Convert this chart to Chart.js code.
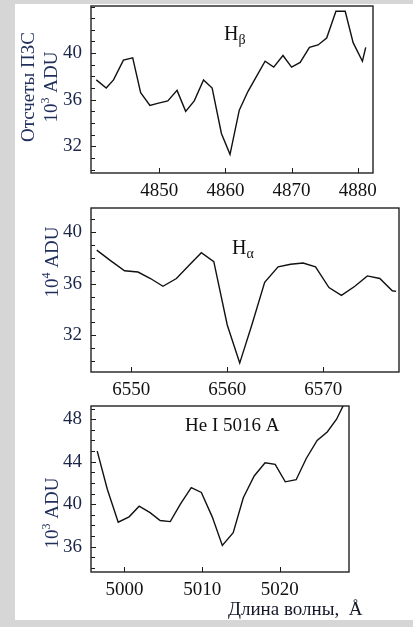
<!DOCTYPE html>
<html><head><meta charset="utf-8">
<script src="https://cdn.jsdelivr.net/npm/chart.js@4.4.1/dist/chart.umd.min.js"></script>
<style>
html,body{margin:0;padding:0;}
body{width:413px;height:627px;background:#d6d6d6;position:relative;overflow:hidden;}
#paper{position:absolute;left:15px;top:4px;width:398px;height:616px;background:#fff;}
canvas{position:absolute;left:0;top:0;}
</style></head><body>
<div id="paper"></div>
<canvas id="c1" width="413" height="627"></canvas>
<canvas id="c2" width="413" height="627"></canvas>
<canvas id="c3" width="413" height="627"></canvas>
<script>
// ---- Data ----
const hbWave = [4840.5,4842.0,4843.1,4844.6,4846.0,4847.2,4848.6,4849.9,4851.3,4852.7,4854.0,4855.3,4856.7,4858.0,4859.4,4860.7,4862.1,4863.4,4864.7,4866.0,4867.3,4868.7,4870.0,4871.3,4872.7,4874.0,4875.3,4876.7,4878.1,4879.3,4880.7,4881.2];
const hbCounts = [37.7,37.0,37.7,39.4,39.6,36.6,35.5,35.7,35.9,36.8,35.0,35.9,37.7,37.0,33.1,31.3,35.1,36.7,38.0,39.3,38.8,39.8,38.8,39.2,40.5,40.7,41.3,43.6,43.6,40.9,39.3,40.5];

const haWave = [6546.4,6547.8,6549.3,6550.7,6552.0,6553.3,6554.7,6556.0,6557.3,6558.6,6560.0,6561.3,6562.6,6563.9,6565.3,6566.6,6567.9,6569.2,6570.6,6571.9,6573.3,6574.6,6575.9,6577.2,6577.6];
const haCounts = [38.6,37.8,37.0,36.9,36.4,35.8,36.4,37.4,38.4,37.7,32.8,29.85,32.9,36.1,37.3,37.5,37.6,37.3,35.7,35.1,35.8,36.6,36.4,35.45,35.4];

const heWave = [4996.5,4997.8,4999.2,5000.6,5001.9,5003.3,5004.6,5005.9,5007.2,5008.6,5009.9,5011.3,5012.6,5014.0,5015.3,5016.7,5018.1,5019.4,5020.7,5022.1,5023.4,5024.8,5026.1,5027.3,5028.3];
const heCounts = [45.0,41.4,38.3,38.8,39.8,39.2,38.45,38.35,40.0,41.55,41.1,38.8,36.1,37.3,40.6,42.65,43.9,43.75,42.1,42.3,44.3,46.0,46.8,48.0,49.5];

const hbXTicks = [4850,4860,4870,4880];
const hbYTicks = [32,36,40];
const haXTicks = [6550,6560,6570];
const haYTicks = [32,36,40];
const heXTicks = [5000,5010,5020];
const heYTicks = [36,40,44,48];

const hbLabel = ['H','β'];
const haLabel = ['H','α'];
const heLabel = 'He I 5016 A';
const yTitleTop = ['Отсчеты ПЗС', '10', '3', ' ADU'];
const yTitleMid = ['10', '4', ' ADU'];
const yTitleBot = ['10', '3', ' ADU'];
const xTitle = 'Длина волны,  Å';

// ---- Drawing helpers ----
const FONT = '"Liberation Serif", "Times New Roman", serif';
const W = 413, H = 627, XH = 30;
const NAVY = '#22305e';

function drawRich(ctx, parts, x, y, rot, align) {
  ctx.save();
  ctx.translate(x, y);
  if (rot) ctx.rotate(rot);
  ctx.textBaseline = 'alphabetic';
  ctx.textAlign = 'left';
  let total = 0;
  parts.forEach(p => { ctx.font = p.size + 'px ' + FONT; total += ctx.measureText(p.t).width; });
  let cx = align === 'center' ? -total / 2 : 0;
  parts.forEach(p => {
    ctx.font = p.size + 'px ' + FONT;
    ctx.fillStyle = p.color || '#111';
    ctx.fillText(p.t, cx, p.dy || 0);
    cx += ctx.measureText(p.t).width;
  });
  ctx.restore();
}

function framePlugin(xTicks, yTicks) {
  return {
    id: 'frame',
    afterDraw(chart) {
      const {ctx, chartArea: a, scales: {x, y}} = chart;
      ctx.save();
      ctx.strokeStyle = '#1a1a1a';
      ctx.lineWidth = 1;
      ctx.beginPath();
      for (let v = Math.ceil(y.min); v <= y.max; v += 1) {
        const py = Math.round(y.getPixelForValue(v)) + 0.5;
        const len = yTicks.includes(v) ? 5 : 4;
        ctx.moveTo(a.left, py); ctx.lineTo(a.left + len, py);
      }
      xTicks.forEach(v => {
        const px = Math.round(x.getPixelForValue(v)) + 0.5;
        ctx.moveTo(px, a.bottom); ctx.lineTo(px, a.bottom - 5);
      });
      ctx.stroke();
      ctx.lineWidth = 1.4;
      ctx.strokeStyle = '#222';
      ctx.strokeRect(a.left, a.top, a.right - a.left, a.bottom - a.top);
      ctx.restore();
    }
  };
}

function textPlugin(fn) {
  return { id: 'texts', afterDraw(chart) { fn(chart.ctx); } };
}

function panel(id, xs, ys, xTicks, yTicks, xmin, xmax, ymin, ymax, area, textFn) {
  new Chart(document.getElementById(id), {
    type: 'line',
    data: { datasets: [{
      data: xs.map((v, i) => ({x: v, y: ys[i]})),
      borderColor: '#111', borderWidth: 1.4, pointRadius: 0, tension: 0, fill: false
    }]},
    options: {
      responsive: false, animation: false, events: [],
      layout: { padding: { left: 0, top: area.t, right: W - area.r, bottom: H - area.b - XH } },
      plugins: { legend: {display: false}, tooltip: {enabled: false} },
      scales: {
        x: {
          type: 'linear', min: xmin, max: xmax,
          afterFit(s) { s.height = XH; s.paddingLeft = 0; s.paddingRight = 0; },
          afterBuildTicks(s) { s.ticks = xTicks.map(v => ({value: v})); },
          grid: {display: false, drawTicks: false}, border: {display: false},
          ticks: { font: {family: FONT, size: 19}, color: '#111', padding: 7, maxRotation: 0, autoSkip: false,
                   callback: v => String(v) }
        },
        y: {
          type: 'linear', min: ymin, max: ymax,
          afterFit(s) { s.width = area.l; s.paddingTop = 0; s.paddingBottom = 0; },
          afterBuildTicks(s) { s.ticks = yTicks.map(v => ({value: v})); },
          grid: {display: false, drawTicks: false}, border: {display: false},
          ticks: { font: {family: FONT, size: 19}, color: '#1b2548', padding: 9, autoSkip: false,
                   callback: v => String(v) }
        }
      }
    },
    plugins: [framePlugin(xTicks, yTicks), textPlugin(textFn)]
  });
}

panel('c1', hbWave, hbCounts, hbXTicks, hbYTicks, 4839.7, 4882.3, 29.7, 44.05,
  {l: 91, t: 6, r: 373, b: 173},
  ctx => {
    drawRich(ctx, [{t: hbLabel[0], size: 20}, {t: hbLabel[1], size: 14, dy: 4}], 224, 40);
    drawRich(ctx, [{t: yTitleTop[0], size: 19, color: NAVY}], 34, 87, -Math.PI / 2, 'center');
    drawRich(ctx, [{t: yTitleTop[1], size: 19, color: NAVY}, {t: yTitleTop[2], size: 12, dy: -8, color: NAVY}, {t: yTitleTop[3], size: 19, color: NAVY}], 57, 87, -Math.PI / 2, 'center');
  });

panel('c2', haWave, haCounts, haXTicks, haYTicks, 6545.8, 6577.9, 29.16, 41.86,
  {l: 91, t: 208, r: 399, b: 372},
  ctx => {
    drawRich(ctx, [{t: haLabel[0], size: 20}, {t: haLabel[1], size: 14, dy: 4}], 232, 254);
    drawRich(ctx, [{t: yTitleMid[0], size: 19, color: NAVY}, {t: yTitleMid[1], size: 12, dy: -8, color: NAVY}, {t: yTitleMid[2], size: 19, color: NAVY}], 58, 262, -Math.PI / 2, 'center');
  });

panel('c3', heWave, heCounts, heXTicks, heYTicks, 4995.7, 5028.9, 33.6, 49.25,
  {l: 91, t: 406, r: 349, b: 572},
  ctx => {
    drawRich(ctx, [{t: heLabel, size: 19}], 185, 431);
    drawRich(ctx, [{t: yTitleBot[0], size: 19, color: NAVY}, {t: yTitleBot[1], size: 12, dy: -8, color: NAVY}, {t: yTitleBot[2], size: 19, color: NAVY}], 58, 513, -Math.PI / 2, 'center');
    drawRich(ctx, [{t: xTitle, size: 19, color: '#15182a'}], 228, 615);
  });
</script>
</body></html>
